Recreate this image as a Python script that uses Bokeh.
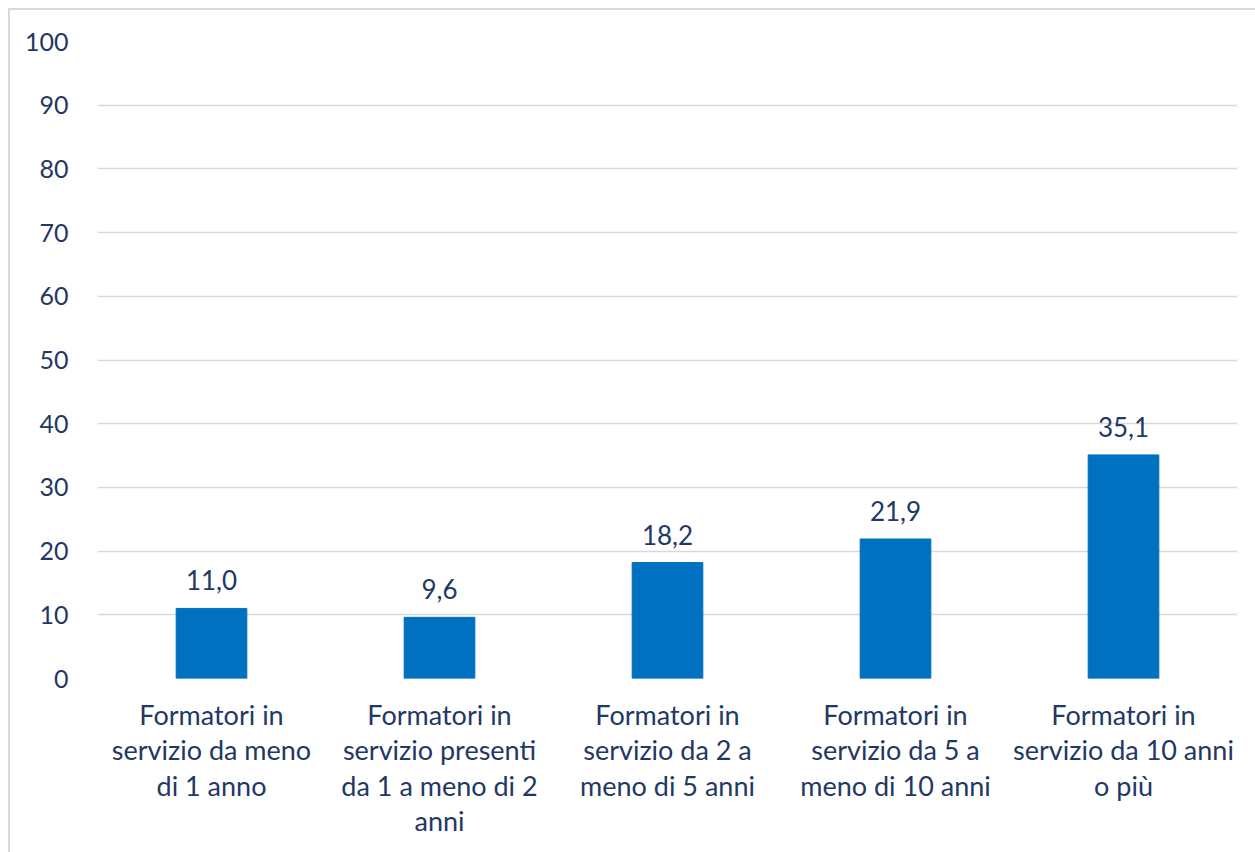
from bokeh.plotting import figure
from bokeh.models import ColumnDataSource, FixedTicker
from bokeh.core.properties import value
from bokeh.embed import file_html
from bokeh.resources import INLINE

categories = [
    "Formatori in\nservizio da meno\ndi 1 anno",
    "Formatori in\nservizio presenti\nda 1 a meno di 2\nanni",
    "Formatori in\nservizio da 2 a\nmeno di 5 anni",
    "Formatori in\nservizio da 5 a\nmeno di 10 anni",
    "Formatori in\nservizio da 10 anni\no più",
]
values = [11.0, 9.6, 18.2, 21.9, 35.1]
labels = ["11,0", "9,6", "18,2", "21,9", "35,1"]
y_ticks = [0, 10, 20, 30, 40, 50, 60, 70, 80, 90, 100]

TEXT = "#1F3864"
FONT = "Lato"

src = ColumnDataSource(dict(cat=categories, val=values, lab=labels))

p = figure(x_range=categories, y_range=(0, 100), width=1247, height=844,
           output_backend="svg", toolbar_location=None,
           min_border_left=87, min_border_right=20, min_border_top=31, min_border_bottom=176)
p.styles = {"border-top": "2px solid #d9d9d9", "border-left": "2px solid #d9d9d9",
            "box-sizing": "border-box", "margin-top": "8px", "margin-left": "8px"}
p.outline_line_color = None
p.background_fill_color = "white"
p.border_fill_color = "white"

p.vbar(x="cat", top="val", width=0.31, source=src, fill_color="#0070C0", line_color="#0070C0")
p.text(x="cat", y="val", text="lab", source=src, text_align="center", text_baseline="alphabetic",
       y_offset=-28, text_font=value(FONT), text_font_size="26px", text_color=TEXT)

p.xgrid.grid_line_color = None
p.ygrid.grid_line_color = "#D9D9D9"
p.ygrid.grid_line_width = 1.5
p.yaxis.ticker = FixedTicker(ticks=y_ticks)

for ax in (p.xaxis, p.yaxis):
    ax.axis_line_color = None
    ax.major_tick_line_color = None
    ax.minor_tick_line_color = None
    ax.major_label_text_font = FONT
    ax.major_label_text_color = TEXT

p.yaxis.major_label_text_font_size = "25px"
p.xaxis.major_label_text_font_size = "27px"
p.yaxis.major_label_standoff = 23
p.xaxis.major_label_standoff = 13
p.xaxis.major_label_text_line_height = 1.08
p.x_range.range_padding = 0

open("out.html", "w").write(file_html(p, INLINE))
